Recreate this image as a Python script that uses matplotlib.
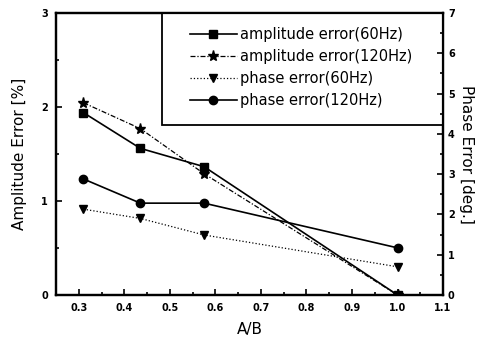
import matplotlib
matplotlib.use("Agg")
import matplotlib.pyplot as plt
from matplotlib.patches import Rectangle
from matplotlib.ticker import MultipleLocator

# ---------- data ----------
ratio = [0.31, 0.435, 0.575, 1.0]                 # A/B
amp_60 = [1.94, 1.56, 1.365, 0.0]                 # amplitude error [%]
amp_120 = [2.045, 1.77, 1.29, 0.0]
phase_60 = [2.13, 1.90, 1.49, 0.70]               # phase error [deg.]
phase_120 = [2.88, 2.28, 2.28, 1.17]

X_TICKS = [0.3, 0.4, 0.5, 0.6, 0.7, 0.8, 0.9, 1.0, 1.1]

plt.rcParams["font.family"] = ["DejaVu Sans"]

fig = plt.figure(figsize=(4.8, 3.43), dpi=100)
ax = fig.add_axes([0.117, 0.14, 0.806, 0.822])
ax2 = ax.twinx()

l1, = ax.plot(ratio, amp_60, "-", marker="s", color="black", lw=1.2,
              ms=6, label="amplitude error(60Hz)")
l2, = ax.plot(ratio, amp_120, linestyle=(0, (4, 1.5, 1, 1.5)), marker="*",
              color="black", lw=0.9, ms=8, label="amplitude error(120Hz)")
l3, = ax2.plot(ratio, phase_60, ":", marker="v", color="black", lw=0.9,
               ms=6, label="phase error(60Hz)")
l4, = ax2.plot(ratio, phase_120, "-", marker="o", color="black", lw=1.2,
               ms=6, label="phase error(120Hz)")

ax.set_xlim(0.25, 1.1)
ax.set_ylim(0, 3)
ax2.set_ylim(0, 7)

ax.set_xticks(X_TICKS)
ax.set_xticklabels([f"{v:.1f}" for v in X_TICKS])
ax.xaxis.set_minor_locator(MultipleLocator(0.05))
ax.yaxis.set_major_locator(MultipleLocator(1))
ax.yaxis.set_minor_locator(MultipleLocator(0.5))
ax2.yaxis.set_major_locator(MultipleLocator(1))
ax2.yaxis.set_minor_locator(MultipleLocator(0.5))

for a in (ax, ax2):
    a.tick_params(which="both", direction="in", labelsize=7, width=1.2)
    a.tick_params(which="major", length=4)
    a.tick_params(which="minor", length=2)
    for lab in a.get_xticklabels() + a.get_yticklabels():
        lab.set_fontweight("bold")
    for s in a.spines.values():
        s.set_linewidth(1.6)
ax.tick_params(axis="x", pad=6)
ax.tick_params(axis="y", pad=6)

ax.set_xlabel("A/B", fontsize=11, labelpad=6)
ax.set_ylabel("Amplitude Error [%]", fontsize=11, labelpad=10)
ax2.set_ylabel("Phase Error [deg.]", fontsize=11, rotation=-90, labelpad=14)

# legend box: framed rectangle in the upper right corner
box = Rectangle((0.274, 0.603), 0.726, 0.397, transform=ax.transAxes,
                facecolor="white", edgecolor="black", linewidth=1.3, zorder=4)
ax.add_patch(box)
leg = ax.legend(handles=[l1, l2, l3, l4], loc="upper left",
                bbox_to_anchor=(0.346, 0.95), fontsize=10.5,
                handlelength=3.2, frameon=False, borderaxespad=0,
                borderpad=0, labelspacing=0.47, handletextpad=0.2)
leg.set_zorder(5)

fig.savefig("out.png", dpi=100)
